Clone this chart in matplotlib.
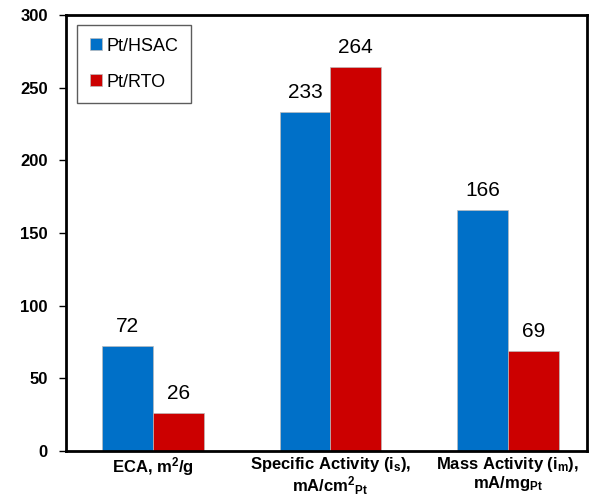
import numpy as np
import matplotlib
matplotlib.use("Agg")
import matplotlib.pyplot as plt

plt.rcParams["font.family"] = ["Liberation Sans", "DejaVu Sans"]
plt.rcParams["mathtext.fontset"] = "custom"
plt.rcParams["mathtext.rm"] = "Liberation Sans:bold"
plt.rcParams["mathtext.bf"] = "Liberation Sans:bold"
plt.rcParams["mathtext.it"] = "Liberation Sans:bold"
plt.rcParams["mathtext.default"] = "rm"

categories = [
    "ECA, m$^{2}$/g",
    "Specific Activity (i$_{s}$),\nmA/cm$^{2}$$_{Pt}$",
    "Mass Activity (i$_{m}$),\nmA/mg$_{Pt}$",
]
hsac = [72, 233, 166]
rto = [26, 264, 69]
series_names = ["Pt/HSAC", "Pt/RTO"]
colors = ["#0070C8", "#CC0000"]

fig = plt.figure(figsize=(5.97, 4.98), dpi=100)
ax = fig.add_axes([66 / 597, 1 - 451 / 498, 521 / 597, 436 / 498])

x = np.arange(len(categories))
w = 0.285
b1 = ax.bar(x - w / 2, hsac, w, color=colors[0], edgecolor="#bbbbbb", linewidth=0.5, label=series_names[0])
b2 = ax.bar(x + w / 2, rto, w, color=colors[1], edgecolor="#bbbbbb", linewidth=0.5, label=series_names[1])

for bars, vals in [(b1, hsac), (b2, rto)]:
    for bar, v in zip(bars, vals):
        ax.text(bar.get_x() + bar.get_width() / 2, v + 7, str(v), ha="center", va="bottom", fontsize=15)

ax.set_xlim(-0.49, 2.445)
ax.set_ylim(0, 300)
ax.set_yticks(range(0, 301, 50))
ax.set_xticks(x)
ax.set_xticklabels(categories, fontsize=12, fontweight="bold", linespacing=1.0)
ax.tick_params(axis="x", length=0, pad=3)
ax.tick_params(axis="y", direction="out", length=5, width=1, labelsize=12, pad=8)
for lbl in ax.get_yticklabels():
    lbl.set_fontweight("bold")
for s in ax.spines.values():
    s.set_linewidth(2)

leg = ax.legend(loc="upper left", bbox_to_anchor=(0.015, 0.985), fontsize=13, frameon=True, fancybox=False,
                edgecolor="#333333", handlelength=0.65, handleheight=0.65, handletextpad=0.25,
                labelspacing=1.05, borderpad=0.7, borderaxespad=0.2)
leg.get_frame().set_linewidth(1)

fig.savefig("out.png", dpi=100)
